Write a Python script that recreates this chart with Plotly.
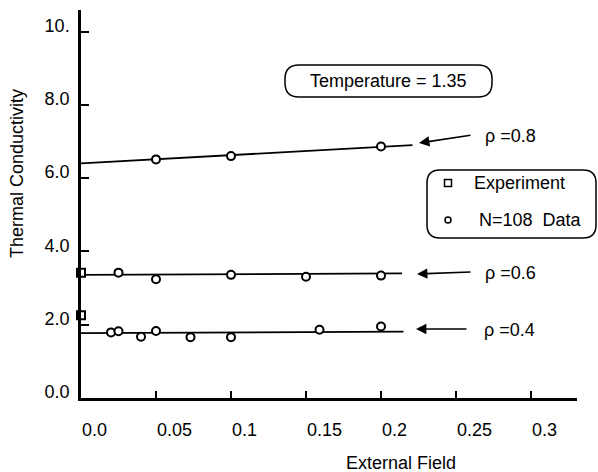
import plotly.graph_objects as go

# ---------------- data ----------------
x_ticks = [0.0, 0.05, 0.1, 0.15, 0.2, 0.25, 0.3]
x_tick_text = ["0.0", "0.05", "0.1", "0.15", "0.2", "0.25", "0.3"]
y_ticks = [0, 2, 4, 6, 8, 10]
y_tick_text = ["0.0", "2.0", "4.0", "6.0", "8.0", "10."]

# experiment (squares, at zero field)
exp_x = [0.0, 0.0]
exp_y = [3.42, 2.26]

# N=108 simulation data (circles)
r08_x = [0.05, 0.10, 0.20]
r08_y = [6.51, 6.60, 6.86]
r06_x = [0.025, 0.05, 0.10, 0.15, 0.20]
r06_y = [3.42, 3.24, 3.36, 3.31, 3.34]
r04_x = [0.020, 0.025, 0.040, 0.050, 0.073, 0.100, 0.159, 0.200]
r04_y = [1.79, 1.82, 1.67, 1.83, 1.66, 1.66, 1.86, 1.95]

# fitted lines (end points)
fit08_x = [0.0, 0.221]
fit08_y = [6.40, 6.90]
fit06_x = [0.0, 0.214]
fit06_y = [3.36, 3.40]
fit04_x = [0.0, 0.215]
fit04_y = [1.77, 1.81]

density_labels = ["\u03c1 =0.8", "\u03c1 =0.6", "\u03c1 =0.4"]

# ---------------- layout geometry ----------------
W, H = 598, 472
ML, MR, MT, MB = 81, 21, 10, 74
PW, PH = W - ML - MR, H - MT - MB
X_SCALE = 1500.0   # px per unit field
Y_SCALE = 36.65    # px per unit conductivity
x_range = [0, PW / X_SCALE]
y_range = [0, PH / Y_SCALE]

FONT = "Liberation Sans, Arial, Helvetica, sans-serif"
FS = 18


def px2paper(px, py):
    return (px - ML) / PW, (H - MB - py) / PH


def rounded_path(x0, y0, x1, y1, r):
    # pixel box -> paper path with rounded corners
    a0, b0 = px2paper(x0, y1)   # bottom-left
    a1, b1 = px2paper(x1, y0)   # top-right
    rx, ry = r / PW, r / PH
    return (f"M {a0+rx},{b0} L {a1-rx},{b0} Q {a1},{b0} {a1},{b0+ry} "
            f"L {a1},{b1-ry} Q {a1},{b1} {a1-rx},{b1} L {a0+rx},{b1} "
            f"Q {a0},{b1} {a0},{b1-ry} L {a0},{b0+ry} Q {a0},{b0} {a0+rx},{b0} Z")


fig = go.Figure()

line_style = dict(color="black", width=1.8)
for fx, fy in [(fit08_x, fit08_y), (fit06_x, fit06_y), (fit04_x, fit04_y)]:
    fig.add_trace(go.Scatter(x=fx, y=fy, mode="lines", line=line_style,
                             showlegend=False, hoverinfo="skip"))

circle = dict(symbol="circle", size=8, color="white",
              line=dict(color="black", width=2))
for dx, dy in [(r08_x, r08_y), (r06_x, r06_y), (r04_x, r04_y)]:
    fig.add_trace(go.Scatter(x=dx, y=dy, mode="markers", marker=circle,
                             showlegend=False, cliponaxis=False))

fig.add_trace(go.Scatter(x=exp_x, y=exp_y, mode="markers",
                         marker=dict(symbol="square", size=8, color="white",
                                     line=dict(color="black", width=2)),
                         showlegend=False, cliponaxis=False))

# legend markers (custom legend)
lx, ly1 = px2paper(448, 183)
_, ly2 = px2paper(448, 220)
fig.add_trace(go.Scatter(x=[lx * x_range[1]], y=[ly1 * y_range[1]], mode="markers",
                         marker=dict(symbol="square", size=7, color="white",
                                     line=dict(color="black", width=1.5)),
                         showlegend=False, cliponaxis=False))
fig.add_trace(go.Scatter(x=[lx * x_range[1]], y=[ly2 * y_range[1]], mode="markers",
                         marker=dict(symbol="circle", size=6, color="white",
                                     line=dict(color="black", width=1.5)),
                         showlegend=False, cliponaxis=False))

annotations = []
# x tick labels (left aligned with ticks)
for v, t in zip(x_ticks, x_tick_text):
    annotations.append(dict(x=v, y=0, xref="x", yref="paper", text=t,
                            showarrow=False, xanchor="left", yanchor="middle",
                            xshift=-1, yshift=-32,
                            font=dict(family=FONT, size=FS, color="black")))

# axis titles
tx, ty = px2paper(17, 174)
annotations.append(dict(x=tx, y=ty, xref="paper", yref="paper",
                        text="Thermal Conductivity", textangle=-90,
                        showarrow=False, xanchor="center", yanchor="middle",
                        font=dict(family=FONT, size=FS, color="black")))
tx, ty = px2paper(401, 463)
annotations.append(dict(x=tx, y=ty, xref="paper", yref="paper",
                        text="External Field", showarrow=False,
                        xanchor="center", yanchor="middle",
                        font=dict(family=FONT, size=FS, color="black")))

# temperature label
tx, ty = px2paper(388, 81)
annotations.append(dict(x=tx, y=ty, xref="paper", yref="paper",
                        text="Temperature = 1.35", showarrow=False,
                        xanchor="center", yanchor="middle",
                        font=dict(family=FONT, size=FS, color="black")))

# legend texts
for (px, py, t) in [(472, 183, "Experiment"), (477, 220, "N=108  Data")]:
    a, b = px2paper(px, py)
    annotations.append(dict(x=a, y=b, xref="paper", yref="paper", text=t,
                            showarrow=False, xanchor="left", yanchor="middle",
                            font=dict(family=FONT, size=FS, color="black")))

# arrows and density labels (pixel geometry)
arrows = [((419, 143), (472, 135), (483, 136)),
          ((417, 274), (472, 272), (483, 273)),
          ((416, 329), (468, 329), (482, 330))]
for (head, tail, lab), txt in zip(arrows, density_labels):
    hx, hy = px2paper(*head)
    annotations.append(dict(x=hx, y=hy, xref="paper", yref="paper", text="",
                            showarrow=True, arrowhead=2, arrowsize=1.3,
                            arrowwidth=1.6, arrowcolor="black",
                            ax=tail[0] - head[0], ay=tail[1] - head[1]))
    a, b = px2paper(*lab)
    annotations.append(dict(x=a, y=b, xref="paper", yref="paper", text=txt,
                            showarrow=False, xanchor="left", yanchor="middle",
                            font=dict(family=FONT, size=FS, color="black")))

shapes = [
    dict(type="path", xref="paper", yref="paper",
         path=rounded_path(285, 65, 492, 97, 14),
         line=dict(color="black", width=1.5)),
    dict(type="path", xref="paper", yref="paper",
         path=rounded_path(427, 170, 596, 238, 13),
         line=dict(color="black", width=1.5)),
]

fig.update_layout(
    width=W, height=H,
    margin=dict(l=ML, r=MR, t=MT, b=MB, autoexpand=False),
    paper_bgcolor="white", plot_bgcolor="white",
    showlegend=False,
    annotations=annotations, shapes=shapes,
    font=dict(family=FONT, size=FS, color="black"),
    xaxis=dict(range=x_range, showgrid=False, zeroline=False,
               showline=True, linecolor="black", linewidth=3,
               tickvals=x_ticks[1:], ticks="inside", ticklen=7,
               tickwidth=1.5, tickcolor="black", showticklabels=False),
    yaxis=dict(range=y_range, showgrid=False, zeroline=False,
               showline=True, linecolor="black", linewidth=2.5,
               tickvals=y_ticks, ticktext=y_tick_text, ticks="inside",
               ticklen=8, tickwidth=1.5, tickcolor="black",
               ticklabelshift=-6, ticklabelstandoff=5,
               tickfont=dict(family=FONT, size=FS, color="black")),
)

fig.write_html("out.html")
